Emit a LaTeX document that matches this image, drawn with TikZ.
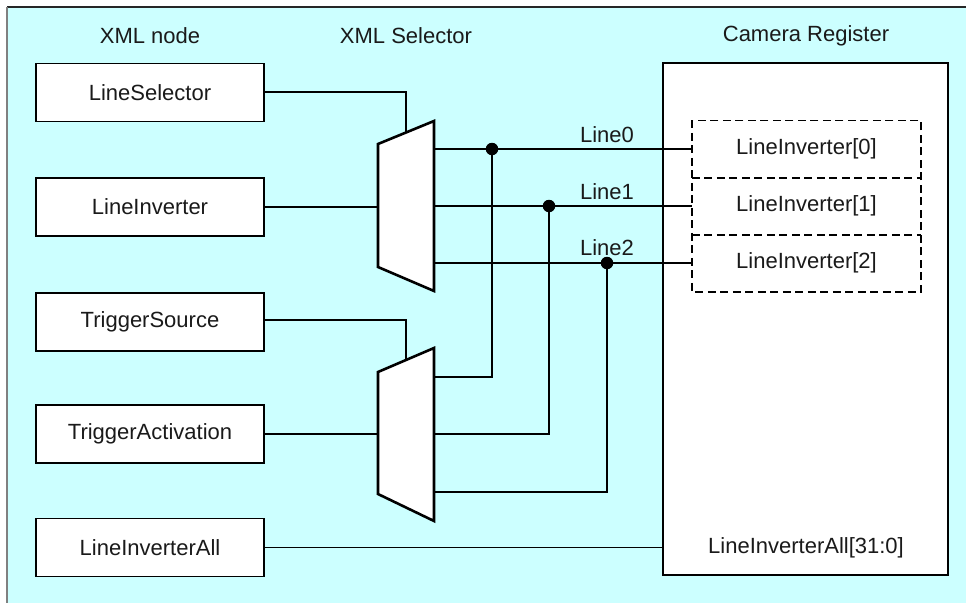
\documentclass[tikz,border=0pt]{standalone}
\usepackage{fontspec}
\setmainfont{Liberation Sans}
\definecolor{bgcyan}{HTML}{CCFFFF}
\definecolor{txt}{HTML}{1A1A1A}
\begin{document}
\begin{tikzpicture}[x=1pt,y=-1pt,
  every node/.style={font=\fontsize{22}{26}\selectfont, text=txt},
  box/.style={draw, line width=1.2pt, fill=white, minimum width=228pt, minimum height=58pt, inner sep=0pt},
  dbox/.style={minimum width=229pt, minimum height=57pt, inner sep=0pt},
  dline/.style={dashed, dash pattern=on 8pt off 4.5pt, line width=1.6pt},
  wire/.style={line width=1.3pt},
  muxs/.style={draw, line width=2.6pt, fill=white, line join=miter},
  jdot/.style={circle, fill=black, inner sep=0pt, minimum size=12.5pt}
]
\useasboundingbox (0,0) rectangle (966,603);
\fill[bgcyan] (7,7) rectangle (966,603);
\draw[line width=1.3pt, black!85] (7,7) -- (966,7);
\draw[line width=1.3pt, black!50] (7,7) -- (7,603);

% headers
\node (h1) at (150,36) {XML node};
\node (h2) at (406,36) {XML Selector};
\node (h3) at (806,36) {Camera Register};

% left boxes
\node[box] (ls)  at (150,92.5)  {LineSelector};
\node[box] (li)  at (150,207)   {LineInverter};
\node[box] (ts)  at (150,322)   {TriggerSource};
\node[box] (ta)  at (150,434)   {TriggerActivation};
\node[box] (lia) at (150,547.5) {LineInverterAll};

% camera register
\node[draw, line width=1.5pt, fill=white, minimum width=285pt, minimum height=512pt, inner sep=0pt] (cam) at (805.5,319) {};
\node[dbox] (lv0) at (806.5,149) {LineInverter[0]};
\node[dbox] (lv1) at (806.5,206) {LineInverter[1]};
\node[dbox] (lv2) at (806.5,263) {LineInverter[2]};
\draw[dline] (lv0.north west) rectangle (lv2.south east);
\draw[dline] (lv0.south west) -- (lv0.south east);
\draw[dline] (lv1.south west) -- (lv1.south east);
\node (lial) at (806,547.5) {LineInverterAll[31:0]};

% muxes
\draw[muxs] (378,144) -- (434,121) -- (434,291) -- (378,267) -- cycle;
\draw[muxs] (378,372) -- (434,348) -- (434,521) -- (378,494) -- cycle;
\coordinate (m1sel) at (406,132.5);
\coordinate (m1in)  at (378,207);
\coordinate (m1o0)  at (434,149);
\coordinate (m1o1)  at (434,206);
\coordinate (m1o2)  at (434,263);
\coordinate (m2sel) at (406,360);
\coordinate (m2in)  at (378,434);
\coordinate (m2o0)  at (434,377);
\coordinate (m2o1)  at (434,434);
\coordinate (m2o2)  at (434,492);

% junctions
\node[jdot] (d0) at (492,149) {};
\node[jdot] (d1) at (549,206) {};
\node[jdot] (d2) at (607,263) {};

% wires
\draw[wire] (ls.east |- 0,92) -| (m1sel);
\draw[wire] (li.east) -- (m1in);
\draw[wire] (ts.east |- 0,320) -| (m2sel);
\draw[wire] (ta.east) -- (m2in);
\draw[wire] (m1o0) -- (d0.center) -- (lv0.west);
\draw[wire] (m1o1) -- (d1.center) -- (lv1.west);
\draw[wire] (m1o2) -- (d2.center) -- (lv2.west);
\draw[wire] (m2o0) -| (d0.center);
\draw[wire] (m2o1) -| (d1.center);
\draw[wire] (m2o2) -| (d2.center);
\draw[wire] (lia.east) -- (lia.east -| cam.west);

% line labels
\node (l0) at (607,135) {Line0};
\node (l1) at (607,192) {Line1};
\node (l2) at (607,248) {Line2};
\end{tikzpicture}
\end{document}
